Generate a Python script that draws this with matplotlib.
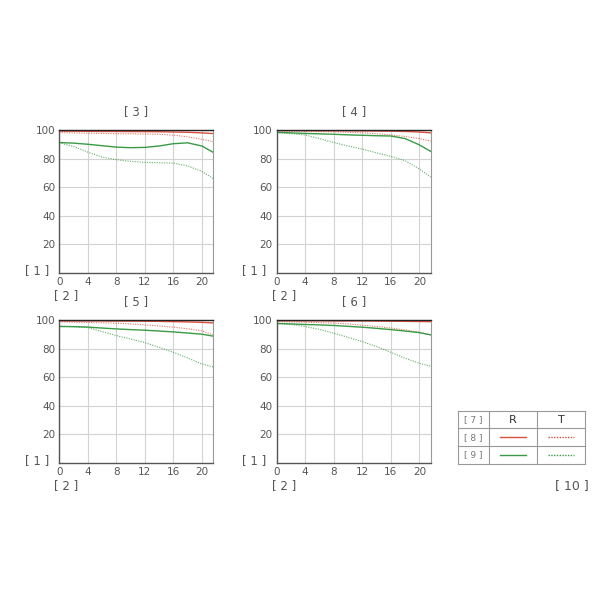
import matplotlib.pyplot as plt
from matplotlib.lines import Line2D

# image height in mm
x = [0, 2, 4, 6, 8, 10, 12, 14, 16, 18, 20, 21.6]

titles = ['[ 3 ]', '[ 4 ]', '[ 5 ]', '[ 6 ]']

r_sag = [
    [99.2, 99.2, 99.1, 99.0, 99.0, 98.9, 98.9, 98.8, 98.6, 98.4, 98.0, 97.5],
    [99.6, 99.6, 99.6, 99.5, 99.5, 99.5, 99.4, 99.3, 99.2, 99.0, 98.6, 98.0],
    [99.5, 99.5, 99.5, 99.5, 99.4, 99.4, 99.3, 99.2, 99.0, 98.8, 98.5, 98.1],
    [99.6, 99.6, 99.6, 99.6, 99.5, 99.5, 99.5, 99.4, 99.3, 99.2, 99.1, 99.0],
]
r_tan = [
    [98.2, 98.0, 97.8, 97.6, 97.4, 97.3, 97.2, 97.0, 96.4, 95.2, 93.5, 91.8],
    [99.3, 99.2, 99.0, 98.9, 98.7, 98.4, 98.0, 97.4, 96.5, 95.5, 94.0, 92.3],
    [98.8, 98.6, 98.4, 98.2, 97.9, 97.4, 96.7, 96.0, 95.1, 94.0, 92.5, 89.7],
    [99.0, 98.8, 98.6, 98.3, 98.0, 97.4, 96.5, 95.6, 94.5, 93.2, 91.5, 89.8],
]
g_sag = [
    [91.2, 90.8, 90.0, 89.0, 88.0, 87.6, 87.8, 88.8, 90.4, 91.0, 88.8, 84.3],
    [98.4, 98.0, 97.6, 97.3, 97.0, 96.6, 96.3, 96.0, 95.8, 94.0, 89.6, 85.0],
    [95.6, 95.5, 95.2, 94.5, 93.9, 93.4, 93.0, 92.4, 91.8, 91.0, 90.2, 88.8],
    [97.7, 97.4, 97.0, 96.7, 96.3, 95.7, 95.1, 94.3, 93.4, 92.4, 91.3, 89.7],
]
g_tan = [
    [91.0, 88.5, 84.5, 81.0, 79.2, 78.0, 77.3, 77.0, 76.8, 74.8, 71.0, 66.0],
    [98.0, 97.5, 96.5, 94.0, 91.2, 88.8, 86.6, 84.0, 81.5, 78.5, 72.7, 67.0],
    [95.8, 95.5, 94.8, 92.0, 89.2, 86.8, 84.3, 81.0, 77.5, 73.5, 69.3, 67.2],
    [97.7, 97.0, 95.6, 93.5, 90.9, 88.0, 85.0, 81.5, 77.5, 73.3, 69.8, 67.7],
]

RED = '#d9503f'
GREEN = '#3a9a45'
DOT = (0, (1, 1.2))
TXT = '#555555'

fig = plt.figure(figsize=(6, 6), dpi=100)

# left, bottom of each panel in figure fraction
pos = [(0.0988, 0.5458), (0.4612, 0.5458), (0.0988, 0.2288), (0.4612, 0.2288)]
w, h = 0.2567, 0.2375

for i in range(4):
    ax = fig.add_axes([pos[i][0], pos[i][1], w, h])
    ax.plot(x, r_sag[i], color=RED, lw=1.0)
    ax.plot(x, r_tan[i], color=RED, lw=0.8, ls=DOT, alpha=0.8)
    ax.plot(x, g_sag[i], color=GREEN, lw=1.0)
    ax.plot(x, g_tan[i], color=GREEN, lw=0.8, ls=DOT, alpha=0.8)
    ax.set_xlim(0, 21.6)
    ax.set_ylim(0, 100)
    ax.set_xticks([0, 4, 8, 12, 16, 20])
    ax.set_yticks([20, 40, 60, 80, 100])
    ax.grid(color='#d2d2d2', lw=0.8)
    ax.set_axisbelow(True)
    ax.tick_params(length=0, labelsize=7.5, labelcolor=TXT, pad=3)
    for s in ['left', 'bottom']:
        ax.spines[s].set_color('#555555')
        ax.spines[s].set_linewidth(1.0)
    ax.spines['top'].set_color('#222222')
    ax.spines['top'].set_linewidth(1.0)
    ax.spines['right'].set_color('#999999')
    ax.spines['right'].set_linewidth(0.8)
    ax.set_title(titles[i], fontsize=8.5, color=TXT, pad=11)
    x0, y0 = pos[i]
    fig.text(x0 - 0.037, y0 + 0.003, '[ 1 ]', fontsize=8.5, color=TXT,
             ha='center', va='center')
    fig.text(x0 + 0.012, y0 - 0.038, '[ 2 ]', fontsize=8.5, color=TXT,
             ha='center', va='center')

# legend table
lg = fig.add_axes([458 / 600, 1 - 464 / 600, 127 / 600, 53.3 / 600])
lg.set_xlim(0, 3)
lg.set_ylim(0, 3)
lg.axis('off')
cols = [0, 0.74, 1.87, 3]
for c in cols:
    lg.plot([c, c], [0, 3], color='#999999', lw=0.8, clip_on=False)
for r in [0, 1, 2, 3]:
    lg.plot([0, 3], [r, r], color='#999999', lw=0.8, clip_on=False)
lg.text(0.37, 2.5, '[ 7 ]', ha='center', va='center', fontsize=6.5, color='#777777')
lg.text(0.37, 1.5, '[ 8 ]', ha='center', va='center', fontsize=6.5, color='#777777')
lg.text(0.37, 0.5, '[ 9 ]', ha='center', va='center', fontsize=6.5, color='#777777')
lg.text(1.305, 2.5, 'R', ha='center', va='center', fontsize=8, color='#333333')
lg.text(2.435, 2.5, 'T', ha='center', va='center', fontsize=8, color='#333333')
lg.add_line(Line2D([1.0, 1.6], [1.5, 1.5], color=RED, lw=1.0))
lg.add_line(Line2D([2.13, 2.74], [1.5, 1.5], color=RED, lw=1.0, ls=(0, (1, 1))))
lg.add_line(Line2D([1.0, 1.6], [0.5, 0.5], color=GREEN, lw=1.0))
lg.add_line(Line2D([2.13, 2.74], [0.5, 0.5], color=GREEN, lw=1.0, ls=(0, (1, 1))))

fig.text(571.7 / 600, 1 - 486 / 600, '[ 10 ]', fontsize=9, color=TXT,
         ha='center', va='center')

fig.savefig('out.png', dpi=100, facecolor='white')
